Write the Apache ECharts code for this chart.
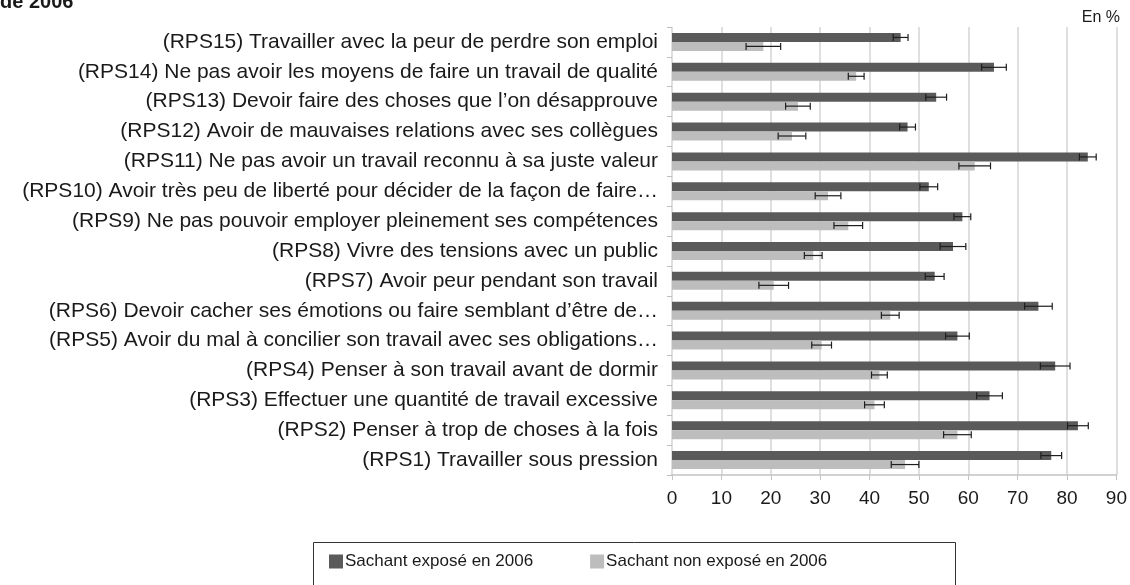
<!DOCTYPE html>
<html>
<head>
<meta charset="utf-8">
<script src="https://cdn.jsdelivr.net/npm/echarts@6/dist/echarts.min.js"></script>
<style>
  html, body { margin: 0; padding: 0; background: #fff; }
  #chart { width: 1130px; height: 585px; }
</style>
</head>
<body>
<div id="chart"></div>
<script>
// categories, top to bottom
var categories = [
  '(RPS15) Travailler avec la peur de perdre son emploi',
  '(RPS14) Ne pas avoir les moyens de faire un travail de qualité',
  '(RPS13) Devoir faire des choses que l\u2019on désapprouve',
  '(RPS12) Avoir de mauvaises relations avec ses collègues',
  '(RPS11) Ne pas avoir un travail reconnu à sa juste valeur',
  '(RPS10) Avoir très peu de liberté pour décider de la façon de faire\u2026',
  '(RPS9) Ne pas pouvoir employer pleinement ses compétences',
  '(RPS8) Vivre des tensions avec un public',
  '(RPS7) Avoir peur pendant son travail',
  '(RPS6) Devoir cacher ses émotions ou faire semblant d\u2019être de\u2026',
  '(RPS5) Avoir du mal à concilier son travail avec ses obligations\u2026',
  '(RPS4) Penser à son travail avant de dormir',
  '(RPS3) Effectuer une quantité de travail excessive',
  '(RPS2) Penser à trop de choses à la fois',
  '(RPS1) Travailler sous pression'
];
var exposed    = [46.3, 65.2, 53.5, 47.7, 84.2, 52.0, 58.8, 56.9, 53.2, 74.2, 57.8, 77.6, 64.3, 82.2, 76.8];
var exposedErr = [1.5, 2.5, 2.1, 1.6, 1.7, 1.8, 1.7, 2.6, 1.9, 2.8, 2.4, 3.0, 2.6, 2.1, 2.1];
var notExposed    = [18.5, 37.3, 25.5, 24.3, 61.3, 31.6, 35.7, 28.6, 20.6, 44.2, 30.3, 42.0, 41.0, 57.8, 47.2];
var notExposedErr = [3.5, 1.6, 2.5, 2.8, 3.2, 2.6, 2.9, 1.8, 3.0, 1.8, 2.0, 1.6, 2.0, 2.8, 2.8];
var seriesNames = ['Sachant exposé en 2006', 'Sachant non exposé en 2006'];

var dark = '#5a5a5a';
var light = '#bdbdbd';
var ink = '#1a1a1a';
var rule = '#d4d4d4';

function errData(vals, errs) {
  return vals.map(function(v, i) { return [v - errs[i], v + errs[i], i]; });
}

function errRender(shift) {
  return function(params, api) {
    var lo = api.coord([api.value(0), api.value(2)]);
    var hi = api.coord([api.value(1), api.value(2)]);
    var band = api.size([0, 1])[1];
    var y = lo[1] + band * shift;
    var cap = 3.5;
    var st = { stroke: '#1e1e1e', lineWidth: 1.2 };
    return {
      type: 'group',
      children: [
        { type: 'line', shape: { x1: lo[0], y1: y, x2: hi[0], y2: y }, style: st },
        { type: 'line', shape: { x1: lo[0], y1: y - cap, x2: lo[0], y2: y + cap }, style: st },
        { type: 'line', shape: { x1: hi[0], y1: y - cap, x2: hi[0], y2: y + cap }, style: st }
      ]
    };
  };
}

var chart = echarts.init(document.getElementById('chart'), null, { renderer: 'canvas' });
chart.setOption({
  animation: false,
  textStyle: { fontFamily: 'Liberation Sans, Arial, sans-serif' },
  grid: { left: 672, right: 10, top: 27, bottom: 110 },
  graphic: [
    { type: 'text', left: 0, top: -8, style: { text: 'de 2006', font: 'bold 20px Liberation Sans', fill: ink } },
    { type: 'text', right: 10, top: 10, style: { text: 'En %', font: '16px Liberation Sans', fill: ink } },
    { type: 'rect', shape: { x: 313.5, y: 542.5, width: 642, height: 60 }, style: { fill: 'none', stroke: '#333', lineWidth: 1 } }
  ],
  legend: {
    data: seriesNames,
    left: 324, top: 548,
    itemWidth: 14, itemHeight: 14, itemGap: 57,
    icon: 'rect',
    textStyle: { color: ink, fontSize: 17, padding: [0, 0, 0, -3] }
  },
  xAxis: {
    type: 'value', min: 0, max: 90, interval: 10,
    axisLine: { show: true, lineStyle: { color: '#c4c4c4', width: 1.5 } },
    axisTick: { show: true, length: 5, lineStyle: { color: '#c4c4c4' } },
    axisLabel: { color: ink, fontSize: 19, margin: 14 },
    splitLine: { show: true, lineStyle: { color: rule, width: 1.5 } }
  },
  yAxis: {
    type: 'category', data: categories, inverse: true,
    axisLine: { show: false },
    axisTick: { show: true, length: 5, lineStyle: { color: '#bdbdbd' } },
    axisLabel: { color: ink, fontSize: 21, margin: 14 }
  },
  series: [
    { name: seriesNames[0], type: 'bar', data: exposed, barWidth: 9, barGap: '0%', itemStyle: { color: dark } },
    { name: seriesNames[1], type: 'bar', data: notExposed, barWidth: 9, barGap: '0%', itemStyle: { color: light } },
    { type: 'custom', renderItem: errRender(-0.15), data: errData(exposed, exposedErr), encode: { x: [0, 1], y: 2 }, z: 5 },
    { type: 'custom', renderItem: errRender(0.15), data: errData(notExposed, notExposedErr), encode: { x: [0, 1], y: 2 }, z: 5 }
  ]
});
</script>
</body>
</html>
